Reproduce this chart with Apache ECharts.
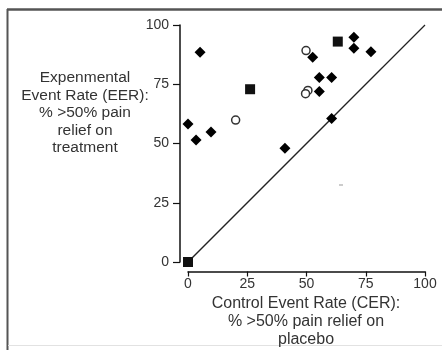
<!DOCTYPE html>
<html>
<head>
<meta charset="utf-8">
<script src="https://cdn.jsdelivr.net/npm/echarts@6/dist/echarts.min.js"></script>
<style>
html,body{margin:0;padding:0;background:#fff;}
#chart{width:442px;height:350px;}
</style>
</head>
<body>
<div id="chart"></div>
<script>
// Filled diamonds
var diamondX = [5.1, 0, 3.4, 9.7, 40.9, 52.6, 55.4, 60.6, 55.4, 60.6, 70.0, 70.0, 77.2];
var diamondY = [88.5, 58.2, 51.5, 54.9, 48.0, 86.4, 77.9, 77.9, 71.9, 60.6, 94.8, 90.2, 88.7];
// Filled squares
var squareX = [63.2, 26.2, 0];
var squareY = [93.0, 72.9, 0];
// Open circles
var circleX = [49.8, 20.1, 50.6, 49.6];
var circleY = [89.2, 59.9, 72.4, 71.0];
// Line of equality
var lineX = [-1.5, 100];
var lineY = [-1.5, 100];
// Axis ticks
var tickValues = [0, 25, 50, 75, 100];

var yTitle = ['Expenmental', 'Event Rate (EER):', '% >50% pain', 'relief on', 'treatment'];
var xTitle = ['Control Event Rate (CER):', '% >50% pain relief on', 'placebo'];

function pairs(xs, ys) { return xs.map(function (v, i) { return [v, ys[i]]; }); }

var FONT = '"Liberation Sans", Arial, sans-serif';
var chart = echarts.init(document.getElementById('chart'), null, {renderer: 'canvas'});
chart.setOption({
  animation: false,
  backgroundColor: '#ffffff',
  grid: {left: 188, right: 17, top: 25, bottom: 88, containLabel: false},
  xAxis: {
    type: 'value', min: 0, max: 100, interval: 25, offset: 9.5,
    splitLine: {show: false},
    axisLine: {show: true, onZero: false, lineStyle: {color: '#111', width: 1.5}},
    axisTick: {show: true, length: 5, lineStyle: {color: '#111', width: 1.2}},
    axisLabel: {margin: 6, fontSize: 14, color: '#333', fontFamily: FONT}
  },
  yAxis: {
    type: 'value', min: 0, max: 100, interval: 25, offset: 8,
    splitLine: {show: false},
    axisLine: {show: true, onZero: false, lineStyle: {color: '#111', width: 1.5}},
    axisTick: {show: true, length: 7, lineStyle: {color: '#111', width: 1.2}},
    axisLabel: {margin: 11, fontSize: 14, color: '#333', fontFamily: FONT}
  },
  series: [
    {
      type: 'line', data: pairs(lineX, lineY), showSymbol: false, symbol: 'none',
      clip: false, silent: true,
      lineStyle: {color: '#222', width: 1.3}, z: 1
    },
    {
      type: 'scatter', data: pairs(diamondX, diamondY),
      symbol: 'path://M0,-1 L1,0 L0,1 L-1,0 Z', symbolSize: [11, 11],
      itemStyle: {color: '#000', opacity: 1}, clip: false, z: 3
    },
    {
      type: 'scatter', data: pairs(squareX, squareY),
      symbol: 'rect', symbolSize: 10,
      itemStyle: {color: '#111', opacity: 1}, clip: false, z: 3
    },
    {
      type: 'scatter', data: pairs(circleX, circleY),
      symbol: 'circle', symbolSize: 8,
      itemStyle: {color: '#fff', borderColor: '#333', borderWidth: 1.5, opacity: 1}, clip: false, z: 4
    }
  ],
  graphic: [
    {type: 'line', shape: {x1: 7, y1: 9.5, x2: 442, y2: 9.5}, style: {stroke: '#555', lineWidth: 2.5}, silent: true},
    {type: 'line', shape: {x1: 7.5, y1: 9, x2: 7.5, y2: 350}, style: {stroke: '#555', lineWidth: 2}, silent: true},
    {type: 'line', shape: {x1: 8, y1: 345.5, x2: 442, y2: 345.5}, style: {stroke: '#e2e2e2', lineWidth: 1}, silent: true},
    {type: 'line', shape: {x1: 339, y1: 185, x2: 343, y2: 185}, style: {stroke: '#999', lineWidth: 1}, silent: true},
    {
      type: 'text', x: 85, y: 69, silent: true,
      style: {
        text: yTitle.join('\n'), textAlign: 'center', textVerticalAlign: 'top',
        align: 'center', verticalAlign: 'top',
        fontSize: 15.5, fontFamily: FONT, lineHeight: 17.5, fill: '#333'
      }
    },
    {
      type: 'text', x: 306, y: 294, silent: true,
      style: {
        text: xTitle.join('\n'), textAlign: 'center', textVerticalAlign: 'top',
        align: 'center', verticalAlign: 'top',
        fontSize: 16, fontFamily: FONT, lineHeight: 18.3, fill: '#333'
      }
    }
  ]
});
</script>
</body>
</html>
